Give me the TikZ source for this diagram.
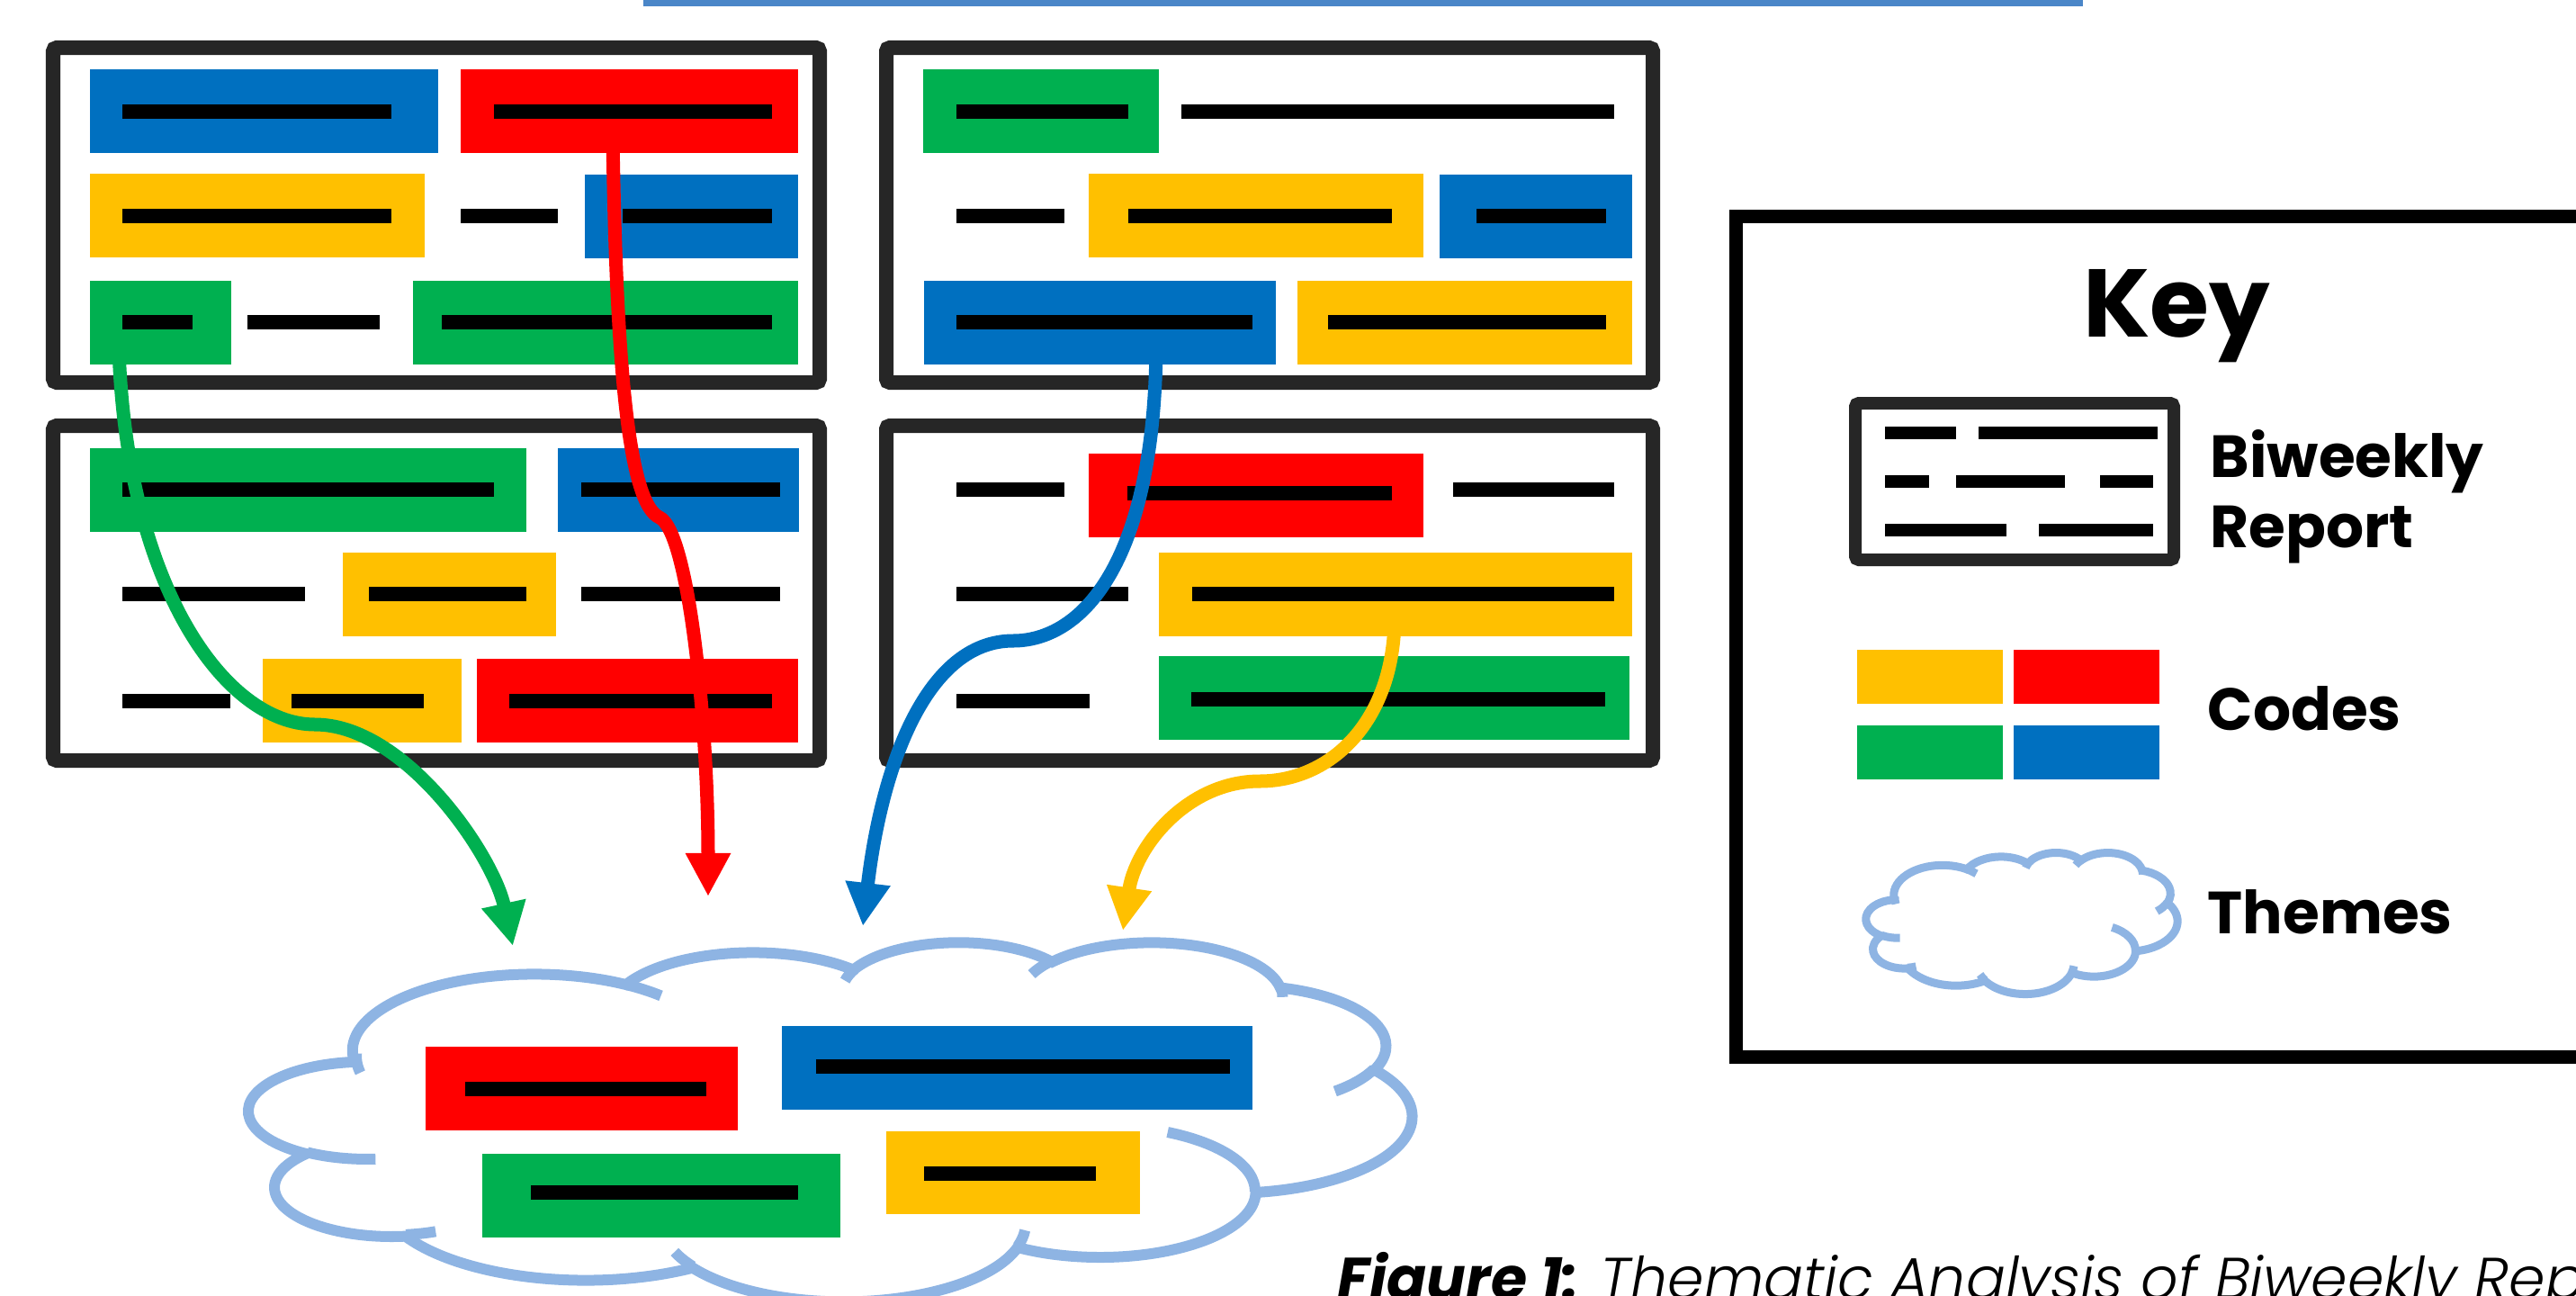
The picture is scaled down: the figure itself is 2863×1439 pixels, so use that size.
\documentclass[tikz,border=0pt]{standalone}
\usepackage{fontspec}
\setmainfont{Poppins}
\newfontfamily\captionlight{Poppins Light Italic}
\usetikzlibrary{arrows.meta}

\definecolor{codeblue}{HTML}{0070C0}
\definecolor{codered}{HTML}{FF0000}
\definecolor{codegreen}{HTML}{00B050}
\definecolor{codeyellow}{HTML}{FFC000}
\definecolor{framegray}{HTML}{262626}
\definecolor{cloudblue}{HTML}{8EB4E3}
\definecolor{rulerblue}{HTML}{4A86C8}

\newcommand{\themecloud}[5]{%
\begin{scope}[shift={(#1,#2)},xscale=#3/432,yscale=#4/432]
  \draw[cloudblue,line width=#5,fill=white] (39.00,143.70)
    arc[start angle=-187.745,delta angle=128.105,x radius=67.53,y radius=91.90]
    arc[start angle=-152.026,delta angle=106.563,x radius=53.33,y radius=72.67]
    arc[start angle=-153.496,delta angle=116.154,x radius=43.65,y radius=59.45]
    arc[start angle=-139.710,delta angle=129.498,x radius=48.57,y radius=65.95]
    arc[start angle=-74.768,delta angle=97.974,x radius=53.33,y radius=72.73]
    arc[start angle=-37.543,delta angle=119.405,x radius=67.75,y radius=92.20]
    arc[start angle=0.460,delta angle=121.513,x radius=57.85,y radius=78.67]
    arc[start angle=16.844,delta angle=129.379,x radius=67.52,y radius=92.15]
    arc[start angle=58.987,delta angle=91.195,x radius=77.20,y radius=105.43]
    arc[start angle=-276.694,delta angle=139.812,x radius=43.60,y radius=59.18]
    arc[start angle=-239.647,delta angle=143.760,x radius=43.45,y radius=59.45]
    -- cycle;
  \foreach \Xc/\Yc/\Sa/\Da/\Rx/\Ry in {46.93/261.77/85.547/34.806/43.45/59.45,
    69.28/348.99/68.235/15.071/43.60/59.18,
    164.78/390.90/146.223/12.251/67.52/92.15,
    288.27/347.51/4.738/12.106/67.52/92.15,
    341.29/229.54/-64.027/64.487/57.85/78.67,
    417.98/153.54/23.206/26.436/53.33/72.73,
    383.24/54.26/-10.212/11.033/48.57/65.95,
    290.78/39.52/-156.273/16.563/48.57/65.95,
    221.41/47.20/-167.726/14.230/43.65/59.45,
    140.00/51.92/-59.640/13.897/67.53/91.90,
    41.27/157.89/168.045/14.477/67.53/91.90}
  {
    \draw[cloudblue,line width=#5]
      (\Xc,\Yc) arc[start angle=\Sa,delta angle=\Da,x radius=\Rx,y radius=\Ry];
  }
\end{scope}}

\begin{document}
\begin{tikzpicture}[x=0.01cm,y=-0.01cm,
  report/.style={draw=framegray,line width=0.16cm,rounded corners=0.04cm},
  bar/.style={black,line width=0.16cm},
  flow/.style={line width=0.15cm,-{Triangle[length=0.48cm,width=0.47cm]}},
  keylabel/.style={anchor=base west,inner sep=0pt,
    font=\bfseries\fontsize{18.8}{22}\selectfont}]

\useasboundingbox (0,0) rectangle (2863,1439);
\clip (0,0) rectangle (2863,1439);

\fill[rulerblue] (715,0) rectangle (2315,7);

\foreach \Xa/\Ya in {59/53,985/53,59/473,985/473}
{
  \draw[report] (\Xa,\Ya) rectangle ++(852,372);
}

\foreach \Col/\Xa/\Ya/\Xb/\Yb in {codeblue/100/77/487/170,codered/512/77/887/170,
  codeyellow/100/193/472/286,codeblue/650/194/887/287,
  codegreen/100/312/257/405,codegreen/459/312/887/405,
  codegreen/1026/77/1288/170,
  codeyellow/1210/193/1582/286,codeblue/1600/194/1814/287,
  codeblue/1027/312/1418/405,codeyellow/1442/312/1814/405,
  codegreen/100/498/585/591,codeblue/620/498/888/591,
  codeyellow/381/614/618/707,
  codeyellow/292/732/513/825,codered/530/732/887/825,
  codered/1210/504/1582/597,
  codeyellow/1288/614/1814/707,
  codegreen/1288/729/1811/822}
{
  \fill[\Col] (\Xa,\Ya) rectangle (\Xb,\Yb);
}

\foreach \Xa/\Xb/\Yc in {136/435/124,549/858/124,136/435/240,512/620/240,692/858/240,
  136/214/358,275/422/358,491/858/358,
  1063/1254/124,1313/1794/124,1063/1183/240,1254/1547/240,1641/1785/240,
  1063/1392/358,1476/1785/358,
  136/549/544,646/867/544,136/339/660,410/585/660,646/867/660,
  136/256/779,324/471/779,566/858/779,
  1063/1183/544,1253/1547/548,1615/1794/544,1063/1254/660,1325/1794/660,
  1063/1211/779,1324/1784/777}
{
  \draw[bar] (\Xa,\Yc) -- (\Xb,\Yc);
}

\themecloud{277}{1046}{1292}{399}{0.12cm}

\foreach \Col/\Xa/\Ya/\Xb/\Yb/\Ba/\Bb/\Yc in {codered/473/1163/820/1256/517/785/1210,
  codeblue/869/1140/1392/1233/907/1367/1185,
  codegreen/536/1282/934/1375/590/887/1325,
  codeyellow/985/1257/1267/1349/1027/1218/1304}
{
  \fill[\Col] (\Xa,\Ya) rectangle (\Xb,\Yb);
  \draw[bar] (\Ba,\Yc) -- (\Bb,\Yc);
}

\coordinate (greenSrc) at (132,385);
\coordinate (greenTip) at (570,1051);
\coordinate (redSrc) at (681,150);
\coordinate (redTip) at (787,996);
\coordinate (blueSrc) at (1285,385);
\coordinate (blueTip) at (959,1029);
\coordinate (yellowSrc) at (1550,685);
\coordinate (yellowTip) at (1248,1034);

\draw[flow,codegreen] (greenSrc) .. controls (140,650) and (250,805) .. (350,805)
  .. controls (450,805) and (548,950) .. (greenTip);
\draw[flow,codered] (redSrc) .. controls (685,420) and (700,560) .. (733,575)
  .. controls (765,590) and (787,800) .. (redTip);
\draw[flow,codeblue] (blueSrc) .. controls (1283,630) and (1200,712) .. (1126,712)
  .. controls (1030,712) and (980,850) .. (blueTip);
\draw[flow,codeyellow] (yellowSrc) .. controls (1550,800) and (1480,868) .. (1400,868)
  .. controls (1320,868) and (1262,940) .. (yellowTip);

\draw[line width=0.15cm] (1929,240) rectangle (2950,1174);
\node[anchor=base,inner sep=0pt,font=\bfseries\fontsize{30.4}{36}\selectfont]
  (keyTitle) at (2419,374) {Key};

\draw[report,line width=0.14cm] (2062,448) rectangle (2416,622);
\foreach \Xa/\Xb/\Yc in {2095/2174/481,2199/2398/481,2095/2144/535,2174/2295/535,
  2334/2393/535,2095/2230/589,2266/2393/589}
{
  \draw[bar,line width=0.14cm] (\Xa,\Yc) -- (\Xb,\Yc);
}
\node[keylabel] (keyBiweekly) at (2456,530) {Biweekly};
\node[keylabel] (keyReport) at (2456,608) {Report};

\foreach \Col/\Xa/\Ya in {codeyellow/2064/722,codered/2238/722,codegreen/2064/806,codeblue/2238/806}
{
  \fill[\Col] (\Xa,\Ya) rectangle ++(162,60);
}
\node[keylabel] (keyCodes) at (2453,811) {Codes};

\themecloud{2074}{947}{346}{157}{0.09cm}
\node[keylabel] (keyThemes) at (2453,1037) {Themes};

\node[anchor=base west,inner sep=0pt,font=\fontsize{18.5}{22}\selectfont]
  (caption) at (1486,1443) {\textbf{\textit{Figure 1:}} {\captionlight Thematic Analysis of Biweekly Reports}};
\end{tikzpicture}
\end{document}
